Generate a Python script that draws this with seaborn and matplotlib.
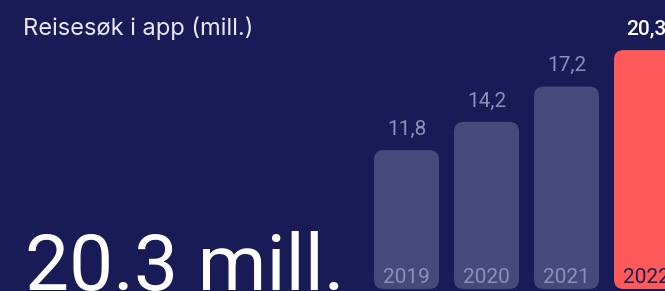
import matplotlib
matplotlib.use("Agg")
import matplotlib.pyplot as plt
from matplotlib.patches import FancyBboxPatch
import pandas as pd
import seaborn as sns

# data
years = ["2019", "2020", "2021", "2022"]
searches = [11.8, 14.2, 17.2, 20.3]
value_labels = ["11,8", "14,2", "17,2", "20,3"]
title = "Reisesøk i app (mill.)"
headline = "20.3 mill."

BG = "#191b57"
BAR = "#464a7a"
HIGHLIGHT = "#ff5a5a"
MUTED = "#8c8fb8"

sns.set_theme(style="white")
plt.rcParams["font.family"] = ["Roboto", "DejaVu Sans"]

W, H, DPI = 665, 291, 100
fig = plt.figure(figsize=(W / DPI, H / DPI), dpi=DPI, facecolor=BG)
ax = fig.add_axes([0, 0, 1, 1])
ax.set_facecolor(BG)

df = pd.DataFrame({"year": years, "value": searches})
palette = {y: (HIGHLIGHT if y == years[-1] else BAR) for y in years}
sns.barplot(data=df, x="year", y="value", hue="year", palette=palette,
            order=years, width=0.8125, legend=False, saturation=1, ax=ax)

# pixel scales: 80 px per category, ~11.77 px per million
px_x, px_y = 80.0, 11.77
x0_px, base_px = 406.5, 289.0
ax.set_xlim(-x0_px / px_x, (W - x0_px) / px_x)
ax.set_ylim(-(H - base_px) / px_y, base_px / px_y)
ax.set_axis_off()

# swap rectangles for rounded bars
aspect = px_x / px_y
for patch in list(ax.patches):
    x, y = patch.get_x(), patch.get_y()
    w, h = patch.get_width(), patch.get_height()
    fc = patch.get_facecolor()
    patch.set_visible(False)
    ax.add_patch(FancyBboxPatch((x, y), w, h,
                                boxstyle="round,pad=0,rounding_size=0.12",
                                mutation_aspect=aspect, facecolor=fc,
                                edgecolor="none", zorder=2))

for i, (yr, v, lab) in enumerate(zip(years, searches, value_labels)):
    last = i == len(years) - 1
    ax.annotate(lab, (i, v), xytext=(0, 11), textcoords="offset points",
                ha="center", va="baseline", fontsize=15,
                color="white" if last else MUTED,
                fontweight="medium" if last else "normal", zorder=3)
    ax.text(i, 6 / px_y, yr, ha="center", va="baseline", fontsize=15,
            color=BG if last else MUTED, zorder=3)

fig.text(23 / W, 1 - 35 / H, title, ha="left", va="baseline",
         fontsize=17, color="#e8e9f3", family=["Inter", "DejaVu Sans"])
fig.text(25 / W, 1 - 290 / H, headline, ha="left", va="baseline",
         fontsize=56.5, color="white")

fig.savefig("out.png", dpi=DPI, facecolor=BG)
